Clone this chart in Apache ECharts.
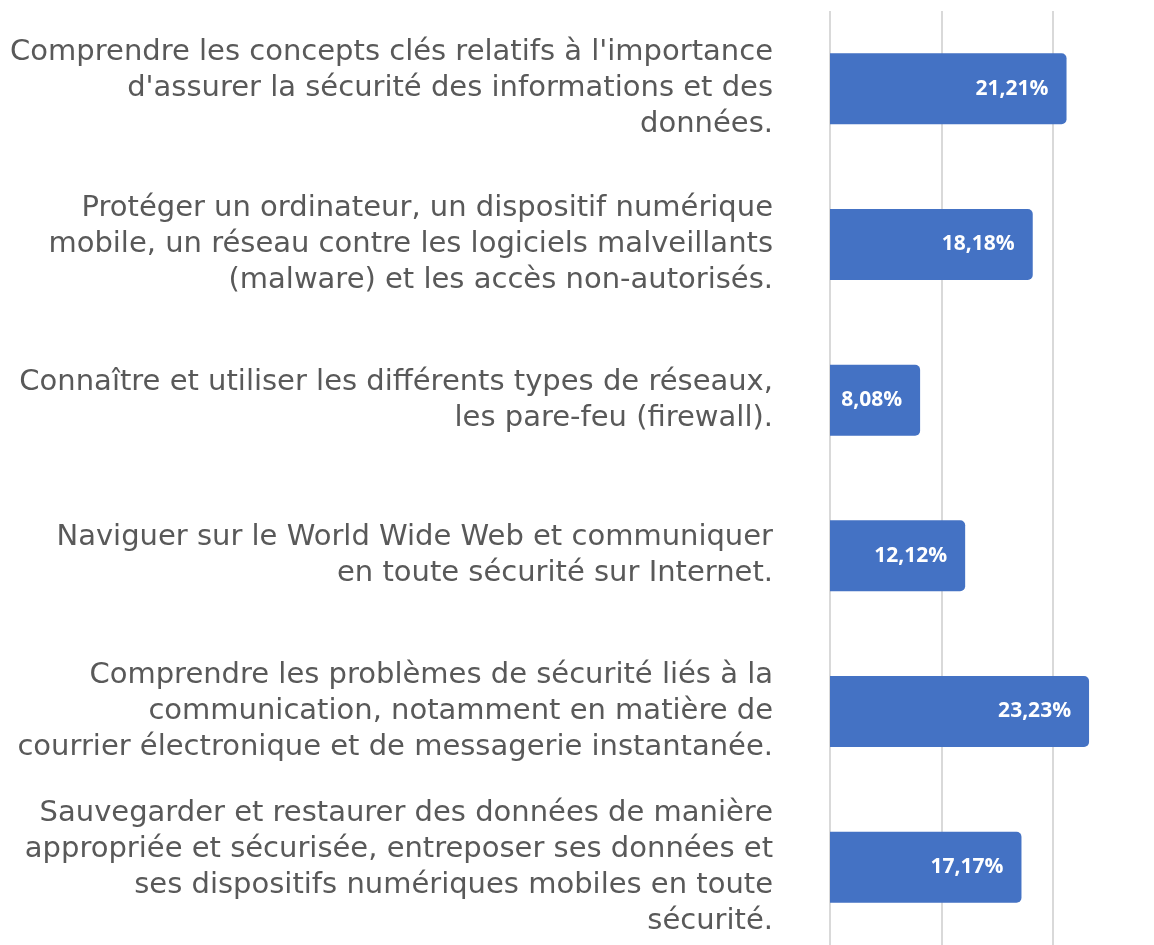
<!DOCTYPE html>
<html>
<head>
<meta charset="utf-8">
<style>
  html, body { margin: 0; padding: 0; background: #ffffff; }
  #chart { width: 1154px; height: 945px; }
</style>
<script src="https://cdn.jsdelivr.net/npm/echarts@6/dist/echarts.min.js"></script>
</head>
<body>
<div id="chart"></div>
<script>
// Compétences en sécurité : libellés (avec retours à la ligne) et parts en %
const categories = [
  "Comprendre les concepts clés relatifs à l'importance\nd'assurer la sécurité des informations et des\ndonnées.",
  "Protéger un ordinateur, un dispositif numérique\nmobile, un réseau contre les logiciels malveillants\n(malware) et les accès non-autorisés.",
  "Connaître et utiliser les différents types de réseaux,\nles pare-feu (firewall).",
  "Naviguer sur le World Wide Web et communiquer\nen toute sécurité sur Internet.",
  "Comprendre les problèmes de sécurité liés à la\ncommunication, notamment en matière de\ncourrier électronique et de messagerie instantanée.",
  "Sauvegarder et restaurer des données de manière\nappropriée et sécurisée, entreposer ses données et\nses dispositifs numériques mobiles en toute\nsécurité."
];
const values = [21.21, 18.18, 8.08, 12.12, 23.23, 17.17];

const axisMin = 0;
const axisMax = 29;
const axisStep = 10;

const chart = echarts.init(document.getElementById('chart'));

chart.setOption({
  animation: false,
  backgroundColor: '#ffffff',
  grid: {
    left: 830,
    top: 11,
    width: 323.4,
    height: 940,
    containLabel: false
  },
  xAxis: {
    type: 'value',
    min: axisMin,
    max: axisMax,
    interval: axisStep,
    axisLine: { show: false },
    axisTick: { show: false },
    axisLabel: { show: false },
    splitLine: {
      show: true,
      showMaxLine: false,
      lineStyle: { color: '#d9d9d9', width: 2 }
    }
  },
  yAxis: {
    type: 'category',
    inverse: true,
    data: categories,
    axisLine: { show: false },
    axisTick: { show: false },
    axisLabel: {
      margin: 57,
      align: 'right',
      color: '#595959',
      fontFamily: 'DejaVu Sans',
      fontSize: 29,
      lineHeight: 36
    }
  },
  series: [{
    type: 'bar',
    data: values,
    barWidth: 71,
    itemStyle: { color: '#4472c4', borderRadius: [0, 5, 5, 0] },
    label: {
      show: true,
      position: 'insideRight',
      distance: 18,
      color: '#ffffff',
      fontFamily: 'Open Sans',
      fontWeight: 'bold',
      fontSize: 21,
      formatter: p => p.value.toFixed(2).replace('.', ',') + '%'
    }
  }]
});
</script>
</body>
</html>
